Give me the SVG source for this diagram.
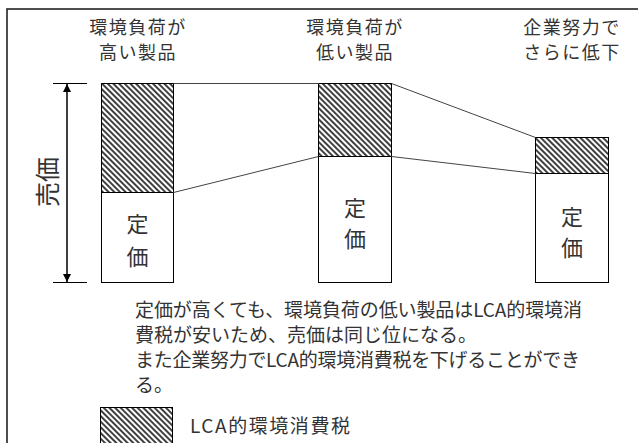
<svg xmlns="http://www.w3.org/2000/svg" width="638" height="443" viewBox="0 0 638 443">
<defs>
<pattern id="hatch" patternUnits="userSpaceOnUse" width="4" height="4" patternTransform="rotate(-45)">
<rect x="0" y="0" width="4" height="4" fill="#fff"/>
<line x1="1" y1="-1" x2="1" y2="5" stroke="#000" stroke-width="1.5"/>
</pattern>
<marker id="ah" viewBox="0 0 10 10" refX="10" refY="5" markerWidth="8" markerHeight="10" markerUnits="userSpaceOnUse" orient="auto-start-reverse">
<path d="M0,0 L10,5 L0,10 z" fill="#000"/>
</marker>
<style>
.t{font-family:"Noto Sans CJK JP","Noto Sans",sans-serif;fill:#333;}
.h{font-size:18px;text-anchor:middle;letter-spacing:1.5px;}
.b{font-size:22px;text-anchor:middle;}
.p{font-size:19px;}
.bar{stroke:#000;stroke-width:1;}
.conn{stroke:#444;stroke-width:1;fill:none;}
</style>
</defs>
<rect x="0" y="0" width="638" height="443" fill="#fff"/>
<rect x="7" y="9" width="640" height="450" fill="none" stroke="#222" stroke-width="1.6"/>

<g id="header1"><text class="t h" x="138" y="34">環境負荷が</text><text class="t h" x="138" y="59">高い製品</text></g>
<g id="header2"><text class="t h" x="355" y="34">環境負荷が</text><text class="t h" x="355" y="59">低い製品</text></g>
<g id="header3"><text class="t h" x="572" y="34">企業努力で</text><text class="t h" x="572" y="59">さらに低下</text></g>

<g id="price-axis">
<line x1="53" y1="83.5" x2="87" y2="83.5" stroke="#000" stroke-width="1"/>
<line x1="53" y1="282.5" x2="87" y2="282.5" stroke="#000" stroke-width="1"/>
<line x1="67" y1="84" x2="67" y2="282" stroke="#000" stroke-width="1.5" marker-start="url(#ah)" marker-end="url(#ah)"/>
<text class="t" font-size="25" text-anchor="middle" transform="translate(57,182) rotate(-90)">売価</text>
</g>

<g id="bar1">
<rect class="bar" x="101.5" y="83.5" width="72" height="109" fill="url(#hatch)"/>
<rect class="bar" x="101.5" y="192.5" width="72" height="90" fill="#fff"/>
<text class="t b" x="137.5" y="232">定</text><text class="t b" x="137.5" y="265">価</text>
</g>
<g id="bar2">
<rect class="bar" x="318.5" y="83.5" width="73" height="73" fill="url(#hatch)"/>
<rect class="bar" x="318.5" y="156.5" width="73" height="126" fill="#fff"/>
<text class="t b" x="355" y="216">定</text><text class="t b" x="355" y="247">価</text>
</g>
<g id="bar3">
<rect class="bar" x="535.5" y="137.5" width="73" height="36" fill="url(#hatch)"/>
<rect class="bar" x="535.5" y="173.5" width="73" height="109" fill="#fff"/>
<text class="t b" x="572" y="225">定</text><text class="t b" x="572" y="256">価</text>
</g>

<g id="connectors">
<line class="conn" x1="173.5" y1="83.5" x2="318.5" y2="83.5"/>
<line class="conn" x1="391.5" y1="83.5" x2="535.5" y2="137.5"/>
<line class="conn" x1="173.5" y1="192.5" x2="318.5" y2="156.5"/>
<line class="conn" x1="391.5" y1="156.5" x2="535.5" y2="173.5"/>
</g>

<g id="description">
<text class="t p" x="135" y="317" textLength="447" lengthAdjust="spacing">定価が高くても、環境負荷の低い製品はLCA的環境消</text>
<text class="t p" x="135" y="342">費税が安いため、売価は同じ位になる。</text>
<text class="t p" x="135" y="367" textLength="445" lengthAdjust="spacing">また企業努力でLCA的環境消費税を下げることができ</text>
<text class="t p" x="135" y="392">る。</text>
</g>

<g id="legend">
<rect class="bar" x="100.5" y="407.5" width="72" height="50" fill="url(#hatch)"/>
<text class="t p" x="190" y="433" textLength="160" lengthAdjust="spacing">LCA的環境消費税</text>
</g>
</svg>
